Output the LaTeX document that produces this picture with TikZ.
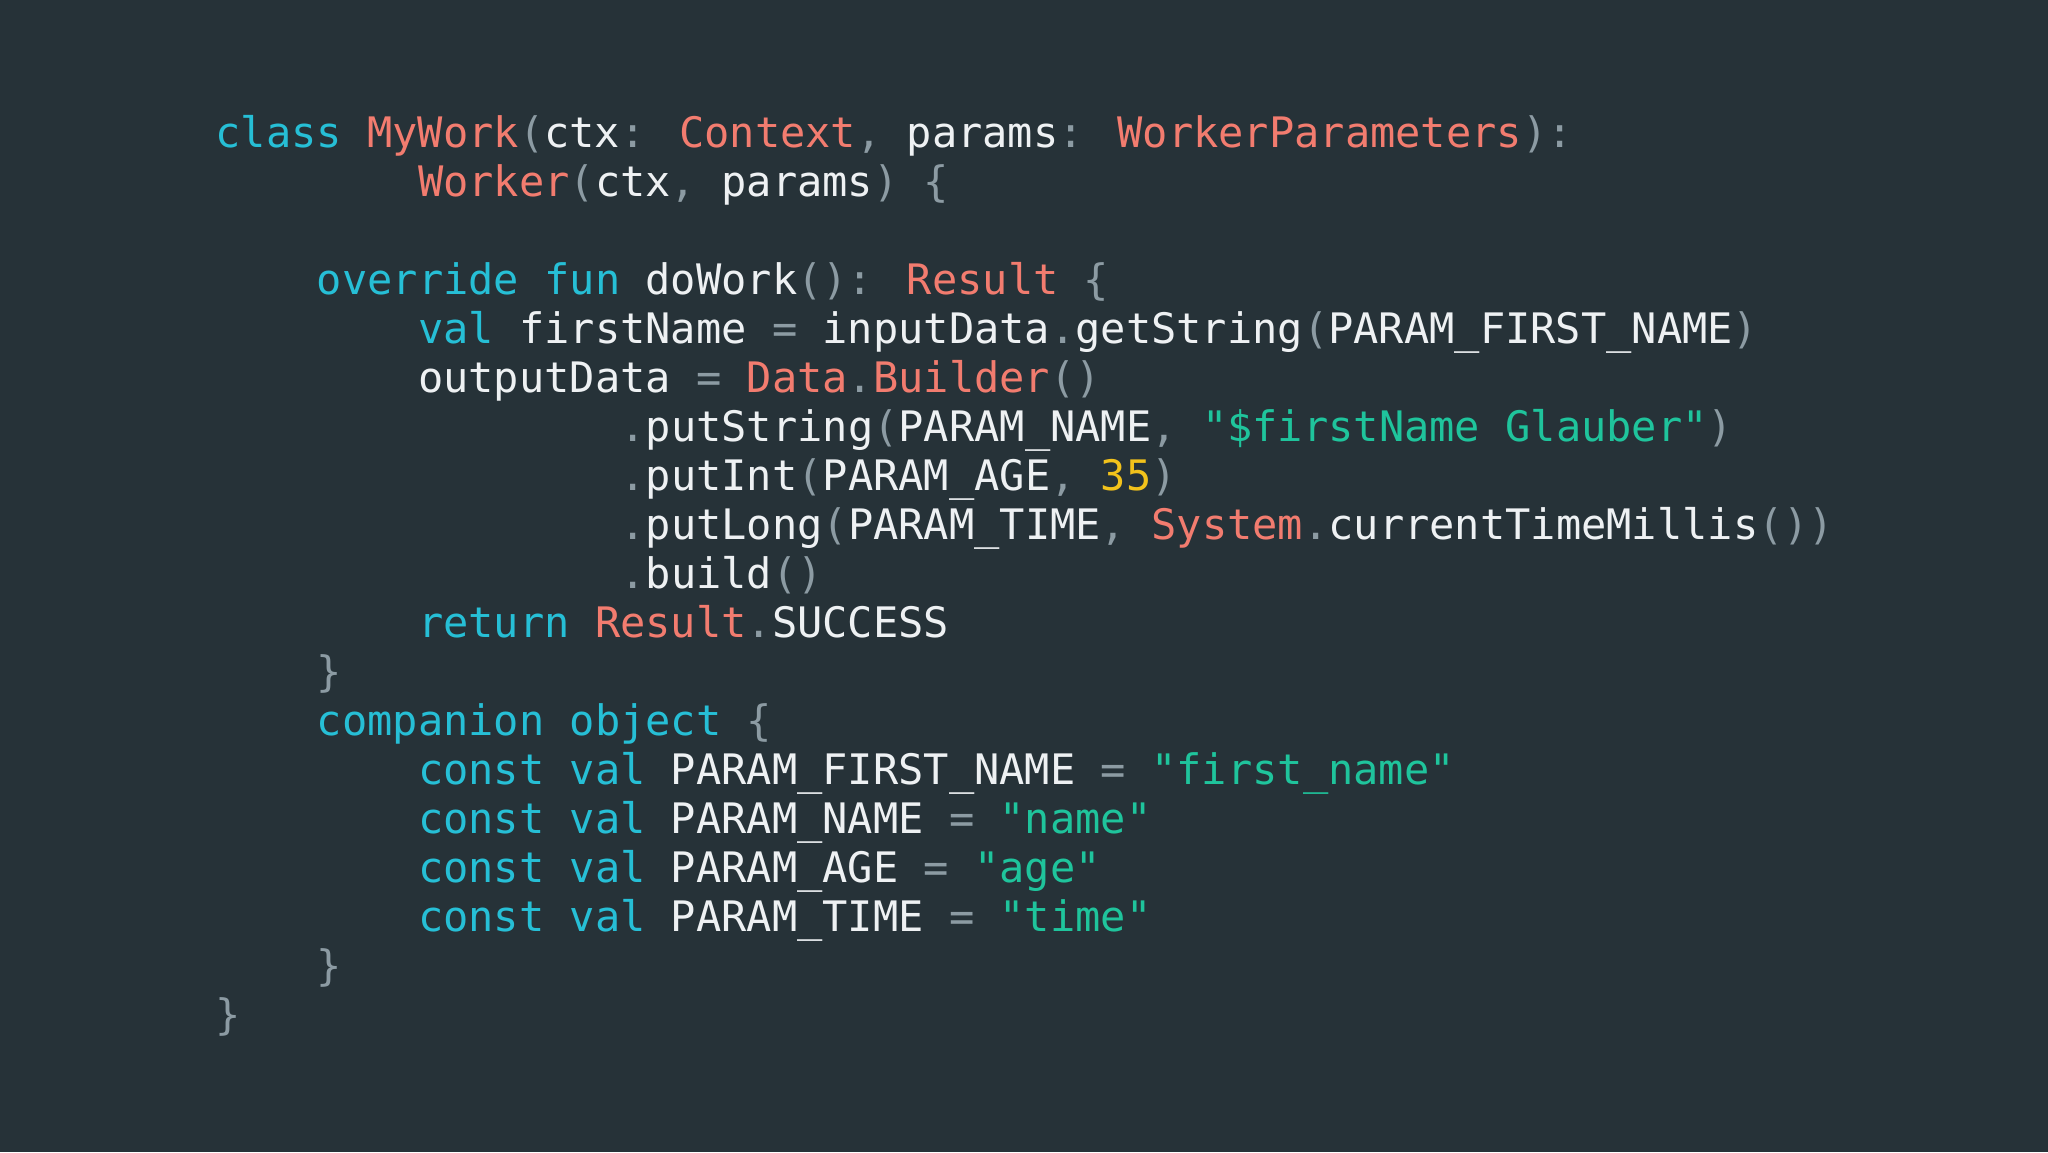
\documentclass[tikz,border=0pt]{standalone}
\usepackage{fontspec}
\newfontfamily\code{DejaVu Sans Mono}
\definecolor{bg}{HTML}{263238}
\definecolor{kw}{HTML}{26BFD6}
\definecolor{ty}{HTML}{F27C6F}
\definecolor{st}{HTML}{1FC49C}
\definecolor{nm}{HTML}{F2C21B}
\definecolor{pu}{HTML}{8C9BA3}
\definecolor{id}{HTML}{EEF1F3}
\newcommand\K[1]{\textcolor{kw}{#1}}
\newcommand\T[1]{\textcolor{ty}{#1}}
\newcommand\St[1]{\textcolor{st}{#1}}
\newcommand\N[1]{\textcolor{nm}{#1}}
\newcommand\Pu[1]{\textcolor{pu}{#1}}
\begin{document}
\begin{tikzpicture}[x=1pt,y=1pt,
  ln/.style={anchor=base west,inner sep=0pt,text=id,font=\code\fontsize{42}{42}\selectfont}]
\fill[bg] (0,0) rectangle (2048,1152);
\useasboundingbox (0,0) rectangle (2048,1152);
\def\cw{25.3}
\def\xo{215.5}
\newcommand\Ln[4]{\node[ln] (#1) at ({\xo+#2*\cw},{1152-147.6-49*#3}) {#4};}
\Ln{l1}{0}{0}{\K{class} \T{MyWork}\Pu{(}ctx\Pu{:} \T{Context}\Pu{,} params\Pu{:} \T{WorkerParameters}\Pu{):}}
\Ln{l2}{8}{1}{\T{Worker}\Pu{(}ctx\Pu{,} params\Pu{)} \Pu{\{}}
\Ln{l3}{4}{3}{\K{override} \K{fun} doWork\Pu{():} \T{Result} \Pu{\{}}
\Ln{l4}{8}{4}{\K{val} firstName \Pu{=} inputData\Pu{.}getString\Pu{(}PARAM\_FIRST\_NAME\Pu{)}}
\Ln{l5}{8}{5}{outputData \Pu{=} \T{Data}\Pu{.}\T{Builder}\Pu{()}}
\Ln{l6}{16}{6}{\Pu{.}putString\Pu{(}PARAM\_NAME\Pu{,} \St{"\$firstName Glauber"}\Pu{)}}
\Ln{l7}{16}{7}{\Pu{.}putInt\Pu{(}PARAM\_AGE\Pu{,} \N{35}\Pu{)}}
\Ln{l8}{16}{8}{\Pu{.}putLong\Pu{(}PARAM\_TIME\Pu{,} \T{System}\Pu{.}currentTimeMillis\Pu{())}}
\Ln{l9}{16}{9}{\Pu{.}build\Pu{()}}
\Ln{l10}{8}{10}{\K{return} \T{Result}\Pu{.}SUCCESS}
\Ln{l11}{4}{11}{\Pu{\}}}
\Ln{l12}{4}{12}{\K{companion} \K{object} \Pu{\{}}
\Ln{l13}{8}{13}{\K{const} \K{val} PARAM\_FIRST\_NAME \Pu{=} \St{"first\_name"}}
\Ln{l14}{8}{14}{\K{const} \K{val} PARAM\_NAME \Pu{=} \St{"name"}}
\Ln{l15}{8}{15}{\K{const} \K{val} PARAM\_AGE \Pu{=} \St{"age"}}
\Ln{l16}{8}{16}{\K{const} \K{val} PARAM\_TIME \Pu{=} \St{"time"}}
\Ln{l17}{4}{17}{\Pu{\}}}
\Ln{l18}{0}{18}{\Pu{\}}}
\end{tikzpicture}
\end{document}
